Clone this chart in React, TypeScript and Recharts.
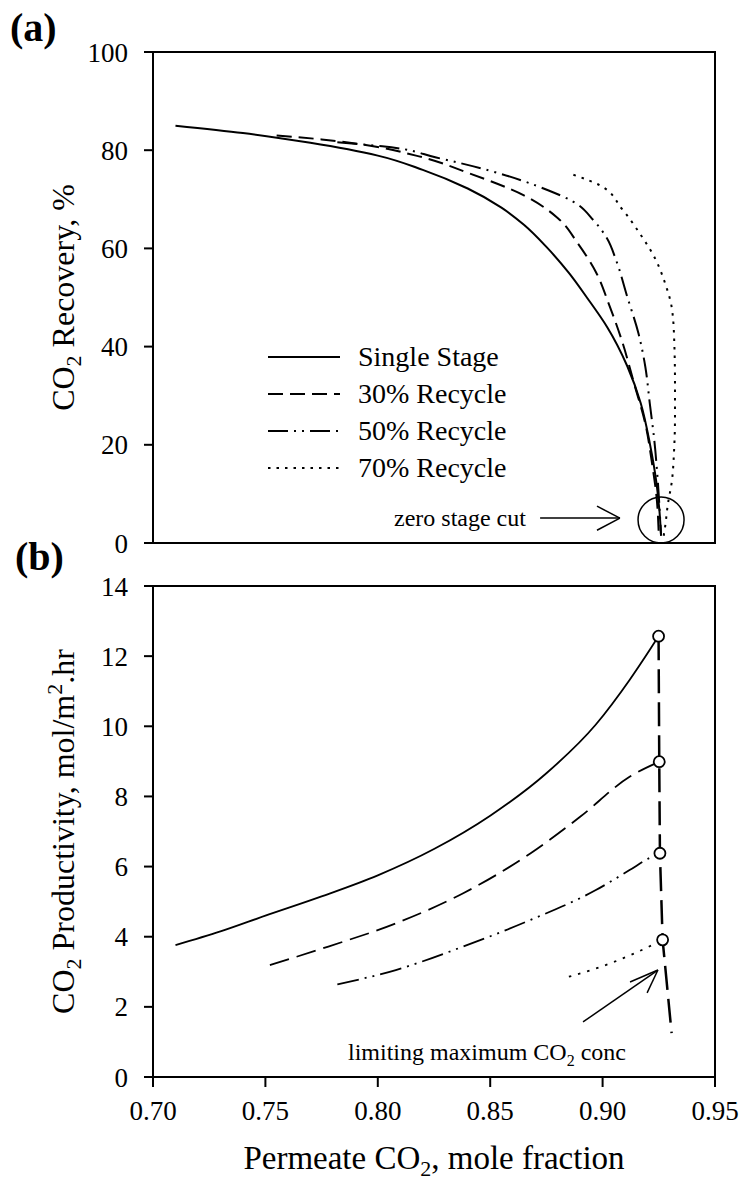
import React from "react";
import {
  LineChart,
  Line,
  XAxis,
  YAxis,
  ReferenceArea,
  ReferenceLine,
  ReferenceDot,
  Legend,
  Label,
} from "recharts";

const FONT = '"Liberation Serif", "Times New Roman", Times, serif';

// (a) CO2 recovery (%) vs permeate CO2 mole fraction  [x, y]
const recoverySingle = [
  [0.71, 85.0], [0.74, 83.5], [0.77, 81.5], [0.8, 78.9], [0.82, 76.0],
  [0.84, 72.2], [0.855, 68.3], [0.865, 64.8], [0.875, 60.3], [0.885, 55.0],
  [0.893, 50.0], [0.902, 44.0], [0.911, 36.0], [0.917, 28.4], [0.921, 20.3],
  [0.924, 12.1], [0.9255, 5.3], [0.926, 1.5],
];
const recovery30 = [
  [0.755, 83.0], [0.775, 82.2], [0.791, 81.3], [0.817, 78.9], [0.84, 75.4],
  [0.865, 70.8], [0.88, 66.2], [0.889, 61.0], [0.897, 55.2], [0.903, 48.4],
  [0.909, 40.6], [0.914, 32.5], [0.919, 24.3], [0.922, 16.2], [0.924, 9.4],
  [0.925, 1.5],
];
const recovery50 = [
  [0.782, 81.6], [0.802, 80.8], [0.826, 78.5], [0.85, 75.8], [0.876, 71.8],
  [0.887, 69.5], [0.896, 65.7], [0.902, 62.0], [0.906, 57.6], [0.911, 50.1],
  [0.916, 42.6], [0.919, 35.9], [0.921, 28.4], [0.923, 20.9], [0.9243, 14.2],
  [0.9252, 8.1], [0.926, 1.5],
];
const recovery70 = [
  [0.887, 75.0], [0.899, 72.8], [0.9085, 68.1], [0.9166, 63.0], [0.9233, 58.0],
  [0.9278, 52.9], [0.9307, 48.1], [0.9318, 42.0], [0.9322, 32.5], [0.9322, 25.7],
  [0.9318, 18.9], [0.9307, 12.2], [0.9291, 8.1], [0.9278, 3.3], [0.927, 1.0],
];

// (b) CO2 productivity (mol/m2.hr) vs permeate CO2 mole fraction
const prodSingle = [
  [0.71, 3.76], [0.73, 4.15], [0.75, 4.6], [0.775, 5.15], [0.8, 5.75],
  [0.825, 6.5], [0.85, 7.45], [0.875, 8.66], [0.897, 10.05], [0.912, 11.32],
  [0.921, 12.18], [0.9249, 12.57],
];
const prod30 = [
  [0.752, 3.19], [0.778, 3.72], [0.808, 4.38], [0.838, 5.24], [0.868, 6.38],
  [0.89, 7.42], [0.912, 8.56], [0.9252, 8.99],
];
const prod50 = [
  [0.782, 2.64], [0.808, 3.05], [0.838, 3.72], [0.868, 4.48], [0.897, 5.33],
  [0.912, 5.9], [0.921, 6.25], [0.9255, 6.38],
];
const prod70 = [
  [0.885, 2.86], [0.895, 3.05], [0.905, 3.28], [0.915, 3.55], [0.9267, 3.91],
];
// limiting maximum CO2 conc (dashed line through the end points)
const limitLine = [
  [0.9249, 12.57], [0.9252, 8.99], [0.9255, 6.38], [0.9267, 3.91], [0.9307, 1.25],
];

const seriesNames = ["Single Stage", "30% Recycle", "50% Recycle", "70% Recycle"];
const xTicks = [0.7, 0.75, 0.8, 0.85, 0.9, 0.95];
const recoveryTicks = [0, 20, 40, 60, 80, 100];
const productivityTicks = [0, 2, 4, 6, 8, 10, 12, 14];

const dashTop = [undefined, "15 7", "20 6 2 6 2 6", "2.5 6"];
const dashBottom = [undefined, "20 8", "22 6 2 6 2 6", "2.5 7"];

const toPoints = (rows: number[][]) => rows.map(([x, y]) => ({ x, y }));

const axisStyle = { stroke: "#000", strokeWidth: 2 };
const tickFont = { fontSize: 27, fill: "#000", fontFamily: FONT };

const renderLegend = () => (
  <div style={{ fontFamily: FONT, fontSize: 28, color: "#000", lineHeight: 1 }}>
    {seriesNames.map((name, i) => (
      <div key={name} style={{ display: "flex", alignItems: "center", height: 37 }}>
        <svg width={74} height={10} style={{ marginRight: 16 }}>
          <line x1={0} y1={5} x2={72} y2={5} stroke="#000" strokeWidth={2} strokeDasharray={dashTop[i]} />
        </svg>
        <span>{name}</span>
      </div>
    ))}
  </div>
);

const YTitle = (text: string, tail?: string) => (props: any) => {
  const vb = props.viewBox || { x: 0, y: 0, width: 153, height: 491 };
  const cx = vb.x + 74;
  const cy = vb.y + vb.height / 2;
  return (
    <text x={cx} y={cy} transform={`rotate(-90 ${cx} ${cy})`} textAnchor="middle"
      fontFamily={FONT} fontSize={32} fill="#000">
      <tspan>CO</tspan>
      <tspan dy={7} fontSize={22}>2</tspan>
      <tspan dy={-7}>{text}</tspan>
      {tail ? (
        <>
          <tspan dy={-12} fontSize={22}>2</tspan>
          <tspan dy={12}>{tail}</tspan>
        </>
      ) : null}
    </text>
  );
};

const XTitle = (props: any) => {
  const vb = props.viewBox || { x: 153, y: 517, width: 562, height: 109 };
  const cx = vb.x + vb.width / 2;
  return (
    <text x={cx} y={vb.y + 92} textAnchor="middle" fontFamily={FONT} fontSize={33} fill="#000">
      <tspan>Permeate CO</tspan>
      <tspan dy={7} fontSize={22}>2</tspan>
      <tspan dy={-7}>, mole fraction</tspan>
    </text>
  );
};

const EndCircle = (p: any) =>
  p.index < limitLine.length - 1 ? (
    <circle key={p.index} cx={p.cx} cy={p.cy} r={5.5} fill="#fff" stroke="#000" strokeWidth={1.8} />
  ) : (
    <g key={p.index} />
  );

const annotationText: React.CSSProperties = {
  position: "absolute",
  fontFamily: FONT,
  fontSize: 24,
  lineHeight: "24px",
  color: "#000",
  whiteSpace: "nowrap",
};

const panelLabel: React.CSSProperties = {
  position: "absolute",
  fontFamily: FONT,
  fontSize: 40,
  fontWeight: "bold",
  lineHeight: "40px",
  color: "#000",
};

export default function App() {
  const tops = [recoverySingle, recovery30, recovery50, recovery70];
  const bottoms = [prodSingle, prod30, prod50, prod70];
  return (
    <div style={{ position: "absolute", left: 0, top: 0, width: 743, height: 1186, background: "#fff" }}>
      <div style={{ position: "absolute", left: 0, top: 0 }}>
        <LineChart width={743} height={560} margin={{ top: 52, right: 28, left: 0, bottom: 0 }}>
          <XAxis dataKey="x" type="number" domain={[0.7, 0.95]} ticks={xTicks} allowDataOverflow
            height={17} tick={false} tickSize={10} axisLine={axisStyle} tickLine={axisStyle} />
          <YAxis type="number" domain={[0, 100]} ticks={recoveryTicks} width={153} tickSize={9}
            tickMargin={16} axisLine={axisStyle} tickLine={axisStyle} tick={tickFont}>
            <Label content={YTitle(" Recovery, %")} />
          </YAxis>
          <ReferenceArea x1={0.7} x2={0.95} y1={0} y2={100} fill="none" fillOpacity={0} stroke="#000" strokeWidth={2} />
          {tops.map((rows, i) => (
            <Line key={seriesNames[i]} name={seriesNames[i]} data={toPoints(rows)} dataKey="y" type="monotoneY"
              stroke="#000" strokeWidth={2} strokeDasharray={dashTop[i]} dot={false} isAnimationActive={false} />
          ))}
          {/* zero stage cut marker */}
          <ReferenceDot x={0.926} y={4.7} r={23} fill="none" stroke="#000" strokeWidth={1.5} />
          <ReferenceLine segment={[{ x: 0.8722, y: 5.08 }, { x: 0.9077, y: 5.08 }]} stroke="#000" strokeWidth={1.5} />
          <ReferenceLine segment={[{ x: 0.8975, y: 7.5 }, { x: 0.9077, y: 5.08 }]} stroke="#000" strokeWidth={1.5} />
          <ReferenceLine segment={[{ x: 0.8975, y: 2.6 }, { x: 0.9077, y: 5.08 }]} stroke="#000" strokeWidth={1.5} />
          <Legend layout="horizontal" verticalAlign="middle" align="center" content={renderLegend}
            wrapperStyle={{ position: "absolute", left: 268, top: 338, width: "auto" }} />
        </LineChart>
      </div>
      <div style={{ position: "absolute", left: 0, top: 560 }}>
        <LineChart width={743} height={626} margin={{ top: 26, right: 28, left: 0, bottom: 0 }}>
          <XAxis dataKey="x" type="number" domain={[0.7, 0.95]} ticks={xTicks} allowDataOverflow
            height={109} tickSize={10} tickMargin={14} axisLine={axisStyle} tickLine={axisStyle}
            tick={tickFont} tickFormatter={(v: number) => v.toFixed(2)}>
            <Label content={XTitle} />
          </XAxis>
          <YAxis type="number" domain={[0, 14]} ticks={productivityTicks} width={153} tickSize={9}
            tickMargin={16} axisLine={axisStyle} tickLine={axisStyle} tick={tickFont}>
            <Label content={YTitle(" Productivity, mol/m", ".hr")} />
          </YAxis>
          <ReferenceArea x1={0.7} x2={0.95} y1={0} y2={14} fill="none" fillOpacity={0} stroke="#000" strokeWidth={2} />
          {bottoms.map((rows, i) => (
            <Line key={seriesNames[i]} name={seriesNames[i]} data={toPoints(rows)} dataKey="y" type="monotone"
              stroke="#000" strokeWidth={1.8} strokeDasharray={dashBottom[i]} dot={false} isAnimationActive={false} />
          ))}
          {/* limiting maximum CO2 conc arrow */}
          <ReferenceLine segment={[{ x: 0.8913, y: 1.57 }, { x: 0.9246, y: 3.05 }]} stroke="#000" strokeWidth={1.5} />
          <ReferenceLine segment={[{ x: 0.9122, y: 2.71 }, { x: 0.9246, y: 3.05 }]} stroke="#000" strokeWidth={1.5} />
          <ReferenceLine segment={[{ x: 0.9198, y: 2.4 }, { x: 0.9246, y: 3.05 }]} stroke="#000" strokeWidth={1.5} />
          <Line data={toPoints(limitLine)} dataKey="y" type="linear" stroke="#000" strokeWidth={2.5}
            strokeDasharray="24 9" dot={EndCircle} activeDot={false} isAnimationActive={false} legendType="none" />
        </LineChart>
      </div>
      <div style={{ ...panelLabel, left: 10, top: 8 }}>(a)</div>
      <div style={{ ...panelLabel, left: 15, top: 537 }}>(b)</div>
      <div style={{ ...annotationText, left: 394, top: 506 }}>zero stage cut</div>
      <div style={{ ...annotationText, left: 348, top: 1040 }}>
        limiting maximum CO<sub style={{ fontSize: 16 }}>2</sub> conc
      </div>
    </div>
  );
}
